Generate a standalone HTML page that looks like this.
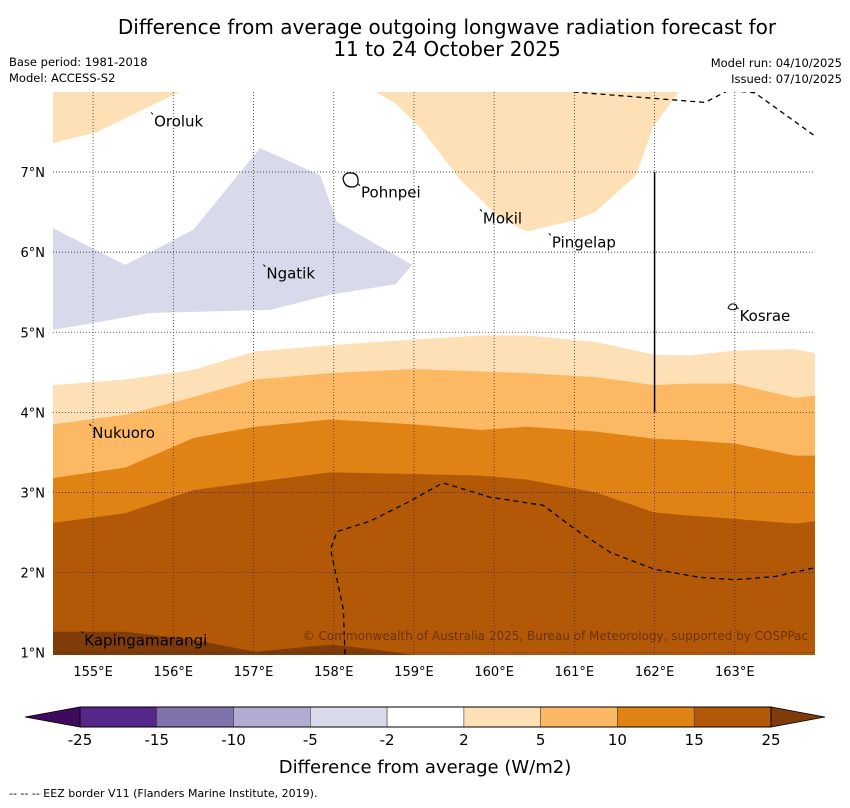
<!DOCTYPE html>
<html><head><meta charset="utf-8">
<style>
body{margin:0;background:#fff;width:850px;height:804px;overflow:hidden;font-family:"DejaVu Sans","Liberation Sans",sans-serif;}
svg text{font-family:"DejaVu Sans","Liberation Sans",sans-serif;}
</style></head>
<body>
<svg id="chart" width="850" height="804" viewBox="0 0 850 804" xmlns="http://www.w3.org/2000/svg">
<text x="447" y="34" font-size="20" text-anchor="middle">Difference from average outgoing longwave radiation forecast for</text>
<text x="447" y="56" font-size="20" text-anchor="middle">11 to 24 October 2025</text>
<text x="9" y="66" font-size="11.5">Base period: 1981-2018</text>
<text x="9" y="82" font-size="11.5">Model: ACCESS-S2</text>
<text x="842" y="67" font-size="11.5" text-anchor="end">Model run: 04/10/2025</text>
<text x="842" y="83" font-size="11.5" text-anchor="end">Issued: 07/10/2025</text>
<g id="map"></g>
<g id="cbar"></g>
<text x="425" y="773" font-size="18" text-anchor="middle">Difference from average (W/m2)</text>
<text x="9" y="797" font-size="11">--  --  -- EEZ border V11 (Flanders Marine Institute, 2019).</text>
</svg>
<script>
const lonTicks=[155,156,157,158,159,160,161,162,163];
const latTicks=[1,2,3,4,5,6,7];
const bandLons=[154.5,155.4,156.25,157.02,157.96,159.0,159.83,160.41,161.26,162.0,162.44,163.0,163.75,164.0];
const top2=[4.34,4.41,4.53,4.76,4.84,4.91,4.96,4.96,4.88,4.72,4.71,4.77,4.79,4.74];
const top5=[3.85,3.97,4.19,4.41,4.49,4.54,4.51,4.49,4.44,4.34,4.36,4.36,4.18,4.21];
const top10=[3.18,3.31,3.68,3.82,3.91,3.85,3.78,3.82,3.76,3.67,3.65,3.61,3.46,3.46];
const top15=[2.62,2.74,3.03,3.13,3.25,3.23,3.21,3.16,3.00,2.75,2.71,2.67,2.61,2.64];
const top25Lons=[154.5,155.4,156.25,157.02,157.96,158.5,159.0];
const top25=[1.26,1.26,1.16,1.01,1.10,1.04,0.97];
const blobNW=[[154.5,8.0],[156.08,8.0],[155.05,7.5],[154.5,7.36]];
const blobN=[[158.52,8.0],[162.3,8.0],[161.98,7.56],[161.77,6.96],[161.26,6.5],[161.01,6.4],[160.41,6.26],[160.07,6.43],[159.58,6.9],[159.08,7.55],[158.77,7.86]];
const blobLav=[[154.5,6.3],[155.4,5.84],[156.25,6.28],[157.08,7.3],[157.83,6.96],[158.04,6.38],[158.98,5.84],[158.77,5.6],[157.96,5.47],[157.21,5.28],[155.71,5.24],[154.5,5.03]];
const eezN=[[160.99,8.0],[162.63,7.87],[162.92,8.02],[163.25,7.99],[164.0,7.45]];
const eezS=[[158.14,0.98],[158.12,1.54],[157.96,2.29],[158.04,2.51],[158.45,2.64],[158.95,2.89],[159.36,3.12],[159.95,2.94],[160.61,2.84],[161.01,2.54],[161.45,2.25],[162.0,2.04],[162.56,1.94],[163.0,1.91],[163.5,1.95],[164.0,2.06]];
const places=["Oroluk","Pohnpei","Mokil","Pingelap","Ngatik","Kosrae","Nukuoro","Kapingamarangi"];
const placeLon=[155.76,158.34,159.86,160.72,157.16,163.06,154.99,154.89];
const placeLat=[7.57,6.68,6.36,6.06,5.67,5.14,3.68,1.09];
const cbLevels=[-25,-15,-10,-5,-2,2,5,10,15,25];
const cbColors=["#542788","#8073ac","#b2abd2","#d8daeb","#ffffff","#fee0b6","#fdb863","#e08214","#b35806"];

const NS="http://www.w3.org/2000/svg";
const X0=53,X1=815,Y0=92,Y1=655,LON0=154.5,LON1=164.0,LAT0=0.97,LAT1=8.0;
const xs=l=>X0+(l-LON0)/(LON1-LON0)*(X1-X0);
const ys=l=>Y1-(l-LAT0)/(LAT1-LAT0)*(Y1-Y0);
const map=document.getElementById('map');
function mk(tag,attrs,parent){const e=document.createElementNS(NS,tag);for(const k in attrs)e.setAttribute(k,attrs[k]);parent.appendChild(e);return e;}
const clip=mk('clipPath',{id:'mc'},map);mk('rect',{x:X0,y:Y0,width:X1-X0,height:Y1-Y0},clip);
const g=mk('g',{'clip-path':'url(#mc)'},map);
mk('rect',{x:X0,y:Y0,width:X1-X0,height:Y1-Y0,fill:'#ffffff'},g);
function band(lons,lats,color){
  let p=lons.map((l,i)=>xs(l)+','+ys(lats[i]));
  p.push(xs(lons[lons.length-1])+','+(Y1+5));p.push(xs(lons[0])+','+(Y1+5));
  const e=mk('polygon',{points:p.join(' '),fill:color},g);
  
}
band(bandLons,top2,'#fee0b6');

band(bandLons,top5,'#fdb863');

band(bandLons,top10,'#e08214');

band(bandLons,top15,'#b35806');

band(top25Lons,top25,'#7f3b08');

function poly(pts,color,name){
  const e=mk('polygon',{points:pts.map(p=>xs(p[0])+','+ys(p[1])).join(' '),fill:color},g);
  
  
}
poly(blobNW,'#fee0b6','band-2-to-5-northwest');
poly(blobN,'#fee0b6','band-2-to-5-north');
poly(blobLav,'#d8daeb','band-minus5-to-minus2');
lonTicks.forEach(l=>{
  const e=mk('line',{x1:xs(l),x2:xs(l),y1:Y0,y2:Y1,stroke:'#333',"stroke-width":0.8,"stroke-dasharray":'1,2'},g);
  
  
  const t=mk('text',{x:xs(l),y:676,"font-size":13,"text-anchor":'middle'},map);t.textContent=l+'°E';
  
  
});
latTicks.forEach(l=>{
  const e=mk('line',{x1:X0,x2:X1,y1:ys(l),y2:ys(l),stroke:'#333',"stroke-width":0.8,"stroke-dasharray":'1,2'},g);
  
  
  const t=mk('text',{x:45,y:ys(l)+5,"font-size":13,"text-anchor":'end'},map);t.textContent=l+'°N';
  
  
});
[eezN,eezS].forEach(pts=>{
  const e=mk('polyline',{points:pts.map(p=>xs(p[0])+','+ys(p[1])).join(' '),fill:'none',stroke:'#000',"stroke-width":1.3,"stroke-dasharray":'5,4'},g);
  
  
});
const vl=mk('line',{x1:xs(162),x2:xs(162),y1:ys(7),y2:ys(4),stroke:'#000',"stroke-width":1.5},g);


const isl1=mk('path',{d:'M343,178 q2,-6 8,-5 q6,0 7,6 q1,8 -6,8 q-8,0 -9,-9z',fill:'none',stroke:'#000',"stroke-width":1.2},g);


const isl2=mk('path',{d:'M728,308 q2,-5 6,-4 q4,1 2,5 q-4,2 -8,-1z',fill:'none',stroke:'#000',"stroke-width":1},g);


places.forEach((n,i)=>{
  const t=mk('text',{x:xs(placeLon[i]),y:ys(placeLat[i]),"font-size":15,fill:'#000'},g);t.textContent=n;
  
  
  const d=mk('line',{x1:xs(placeLon[i])-3,y1:ys(placeLat[i])-14,x2:xs(placeLon[i])-1,y2:ys(placeLat[i])-12,stroke:'#000',"stroke-width":1},g);
  
  
});
const cp=mk('text',{x:808,y:640,"font-size":12,"text-anchor":'end',fill:'#6b3306'},g);
cp.textContent='© Commonwealth of Australia 2025, Bureau of Meteorology, supported by COSPPac';



const cb=document.getElementById('cbar');
const CB0=80,CB1=771,CBY=707,CBH=20;
const cx=i=>CB0+i*(CB1-CB0)/(cbLevels.length-1);
const lt=mk('polygon',{points:`25,${CBY+CBH/2} ${CB0},${CBY} ${CB0},${CBY+CBH}`,fill:'#3f0a5e',stroke:'#000',"stroke-width":0.8},cb);


const rt=mk('polygon',{points:`825,${CBY+CBH/2} ${CB1},${CBY} ${CB1},${CBY+CBH}`,fill:'#7f3b08',stroke:'#000',"stroke-width":0.8},cb);


cbColors.forEach((c,i)=>{
  const r=mk('rect',{x:cx(i),y:CBY,width:cx(i+1)-cx(i),height:CBH,fill:c,stroke:'#444',"stroke-width":0.6},cb);
  
  
});
mk('rect',{x:CB0,y:CBY,width:CB1-CB0,height:CBH,fill:'none',stroke:'#000',"stroke-width":1},cb);
cbLevels.forEach((v,i)=>{
  const t=mk('text',{x:cx(i),y:745,"font-size":15,"text-anchor":'middle'},cb);t.textContent=v;
  
  
});
</script>
</body></html>
